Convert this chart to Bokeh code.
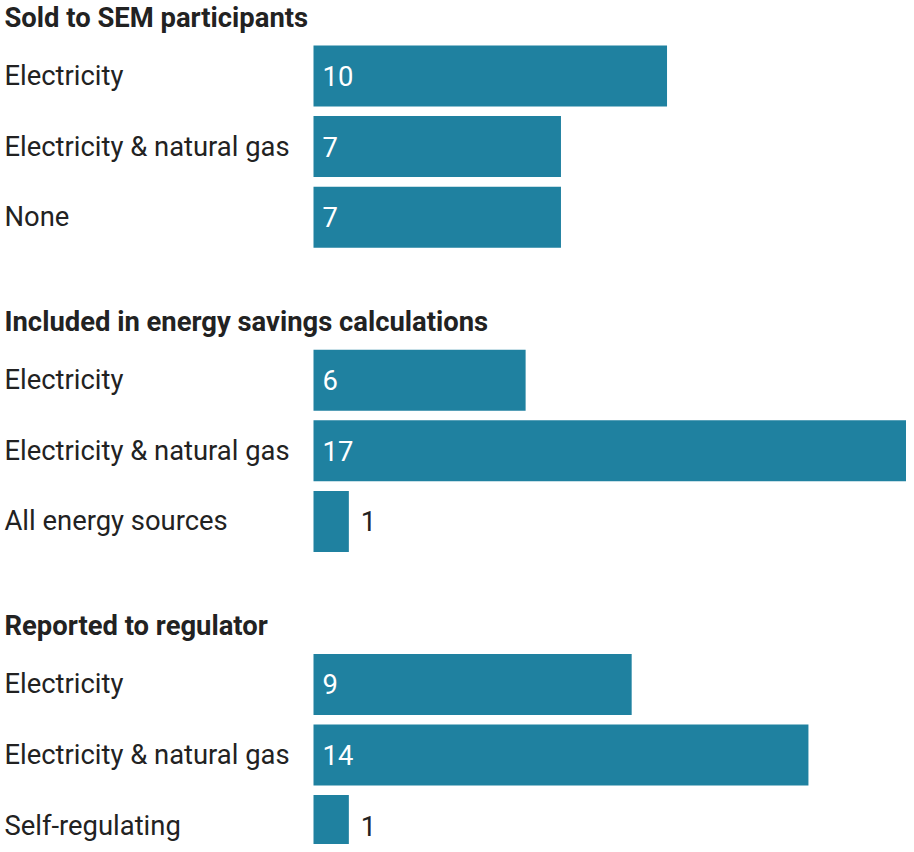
from bokeh.plotting import figure
from bokeh.models import Range1d, ColumnDataSource
from bokeh.core.properties import value
from bokeh.embed import file_html
from bokeh.resources import INLINE

# ---- data ----
group_titles = ["Sold to SEM participants",
                "Included in energy savings calculations",
                "Reported to regulator"]
group1_cats = ["Electricity", "Electricity & natural gas", "None"]
group1_vals = [10, 7, 7]
group2_cats = ["Electricity", "Electricity & natural gas", "All energy sources"]
group2_vals = [6, 17, 1]
group3_cats = ["Electricity", "Electricity & natural gas", "Self-regulating"]
group3_vals = [9, 14, 1]

groups = [(group1_cats, group1_vals), (group2_cats, group2_vals), (group3_cats, group3_vals)]

# ---- layout ----
W, H = 906, 844
BAR_X0 = 313          # pixel where bars start
PX_PER_UNIT = (914 - BAR_X0) / 17.0
X_START = -BAR_X0 / PX_PER_UNIT
X_END = (W - BAR_X0) / PX_PER_UNIT
TEXT_X = X_START + 4 / PX_PER_UNIT

FIRST_CENTER = 75.5
ROW_PITCH = 70.6
GROUP_PITCH = 304.2
BAR_H = 61
TITLE_OFF = 58

COLOR = "#1f81a0"
TEXT = "#222222"
FONT = value("Roboto")
FS = "27.4px"

p = figure(width=W, height=H, output_backend="svg", toolbar_location=None,
           x_range=Range1d(X_START, X_END), y_range=Range1d(H, 0),
           min_border=0, min_border_left=0, min_border_right=0,
           min_border_top=0, min_border_bottom=0)
p.axis.visible = False
p.grid.visible = False
p.outline_line_color = None
p.background_fill_color = "white"
p.border_fill_color = "white"

ys, vals, cats = [], [], []
tys = []
for gi, (c, v) in enumerate(groups):
    base = FIRST_CENTER + gi * GROUP_PITCH
    tys.append(base - TITLE_OFF)
    for ri, (cc, vv) in enumerate(zip(c, v)):
        ys.append(base + ri * ROW_PITCH)
        vals.append(vv)
        cats.append(cc)

inside = [vv >= 3 for vv in vals]
lab_x = [0 + 9 / PX_PER_UNIT if ins else vv + 12 / PX_PER_UNIT for vv, ins in zip(vals, inside)]
lab_col = ["white" if ins else TEXT for ins in inside]

src = ColumnDataSource(dict(y=ys, v=vals, cat=cats, lx=lab_x, lc=lab_col,
                            vt=[str(x) for x in vals], cx=[TEXT_X] * len(ys)))

p.hbar(y="y", left=0, right="v", height=BAR_H, source=src,
       fill_color=COLOR, line_color=None)

p.text(x="cx", y="y", text="cat", source=src, text_font=FONT,
       text_font_size=FS, text_color=TEXT, text_baseline="middle",
       text_align="left")
p.text(x="lx", y="y", text="vt", source=src, text_font=FONT,
       text_font_size=FS, text_color="lc", text_baseline="middle",
       text_align="left")

tsrc = ColumnDataSource(dict(x=[TEXT_X] * 3, y=tys, t=group_titles))
p.text(x="x", y="y", text="t", source=tsrc, text_font=FONT,
       text_font_size=FS, text_font_style="bold", text_color=TEXT,
       text_baseline="middle", text_align="left")

open("out.html", "w").write(file_html(p, INLINE))
